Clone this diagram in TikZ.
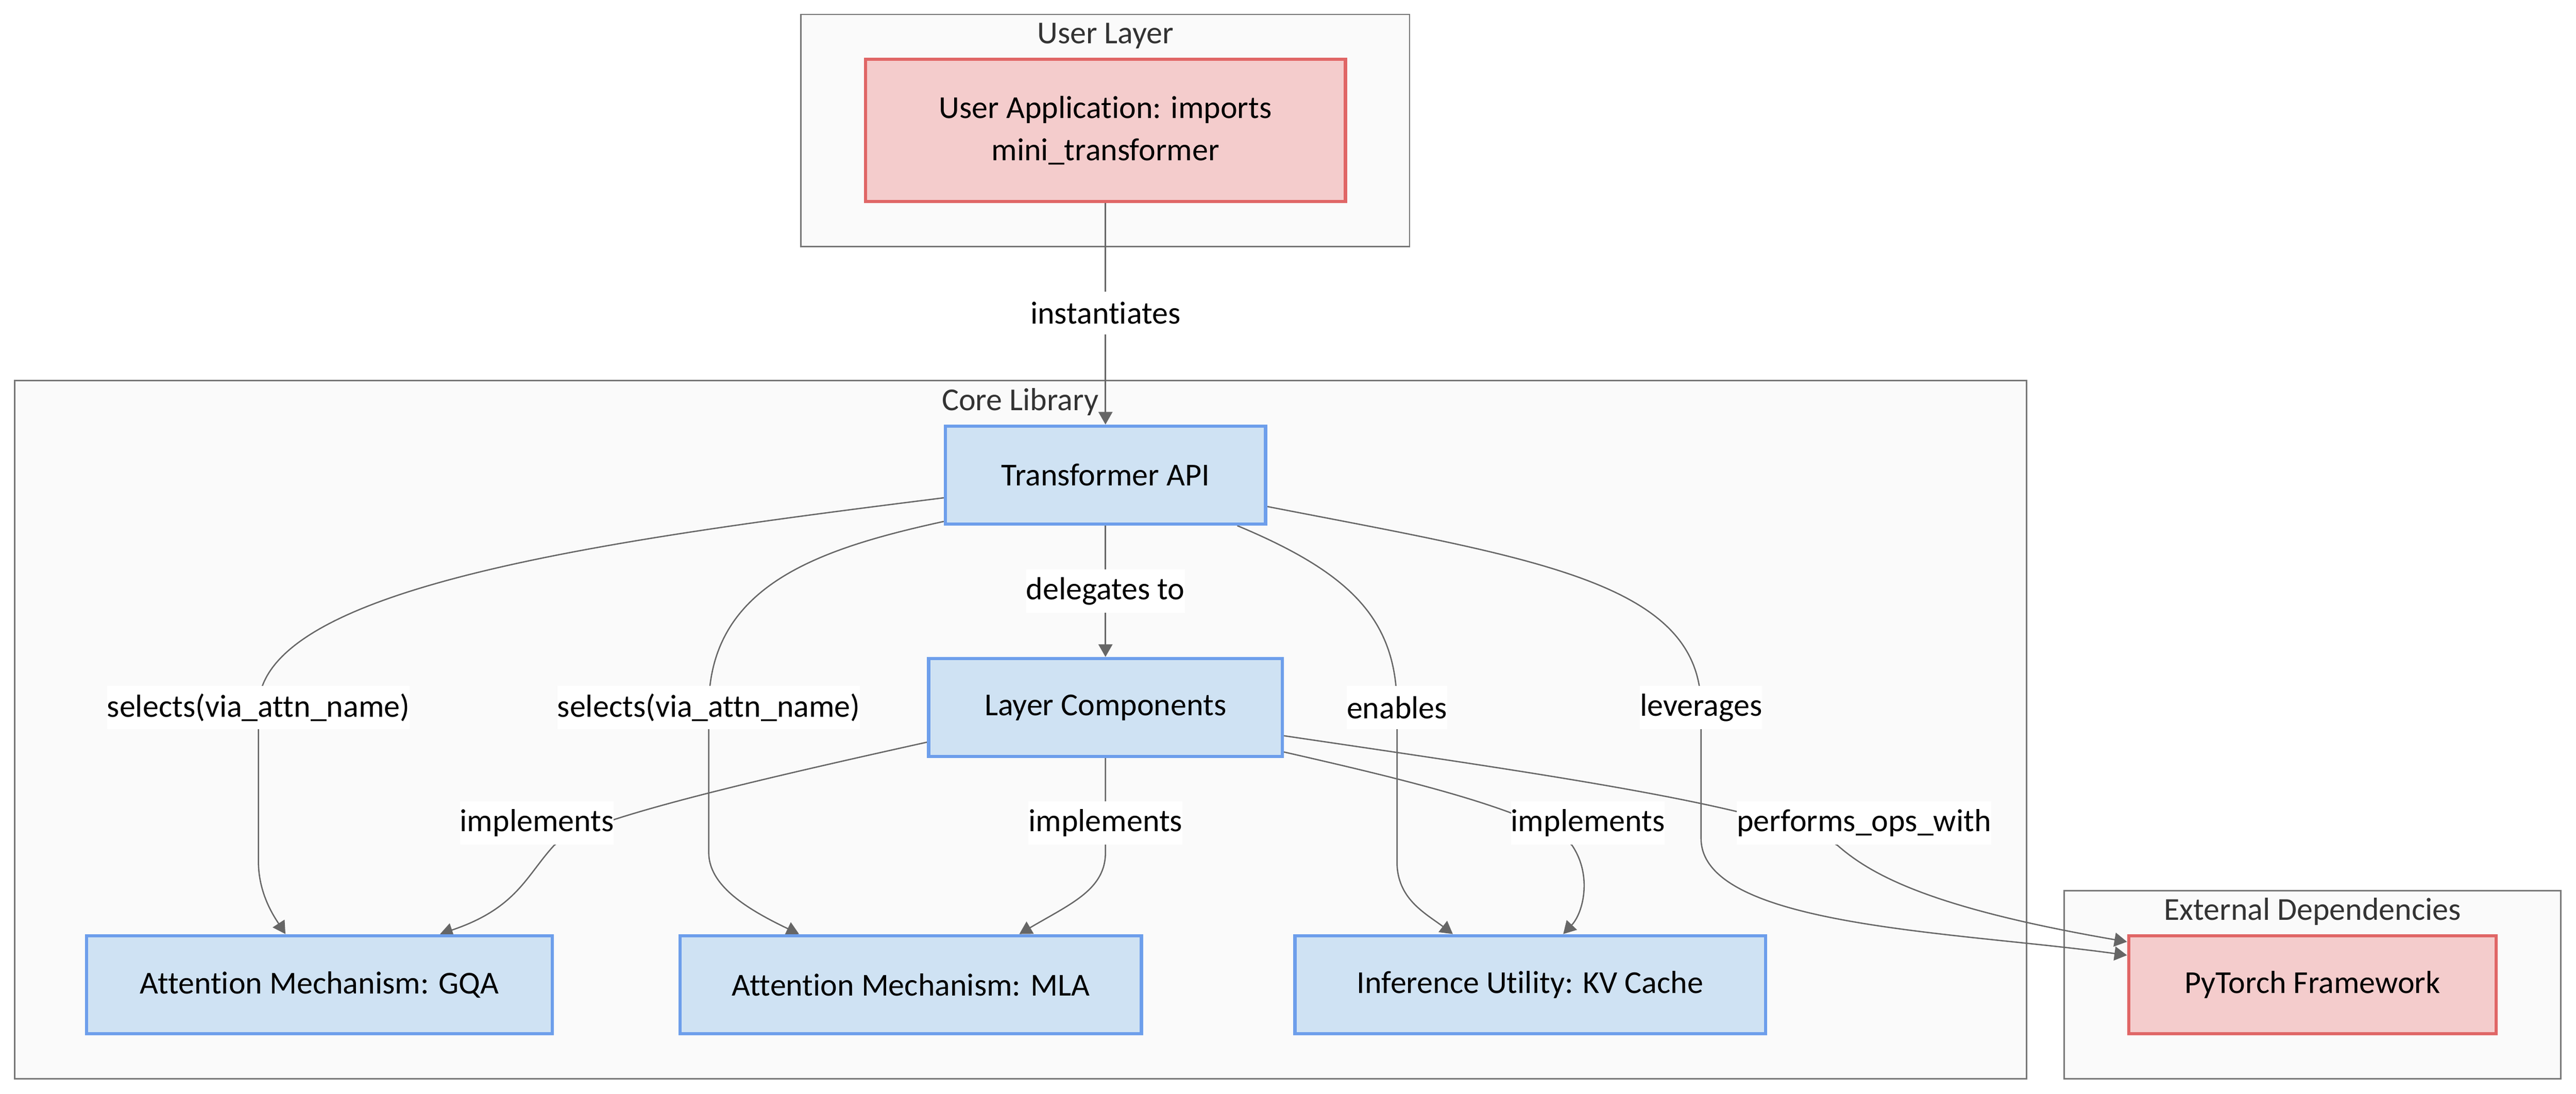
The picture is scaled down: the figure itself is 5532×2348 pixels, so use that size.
\documentclass[tikz,border=0pt]{standalone}
\usepackage{fontspec}
\setmainfont{Carlito}[Ligatures=NoCommon]
\usepackage{tikz}
\usetikzlibrary{arrows.meta,calc,positioning}
\definecolor{clfill}{HTML}{FAFAFA}
\definecolor{cldraw}{HTML}{777777}
\definecolor{cltext}{HTML}{333333}
\definecolor{bluefill}{HTML}{CFE2F3}
\definecolor{bluedraw}{HTML}{6D9EEB}
\definecolor{redfill}{HTML}{F4CCCC}
\definecolor{reddraw}{HTML}{E06666}
\definecolor{edgecol}{HTML}{666666}
\pgfdeclarelayer{clusters}
\pgfdeclarelayer{lines}
\pgfsetlayers{clusters,lines,main}
\tikzset{
  cluster/.style={draw=cldraw,fill=clfill,line width=0.9pt},
  cltitle/.style={text=cltext,inner sep=0pt},
  bluebox/.style={draw=bluedraw,fill=bluefill,line width=2pt,minimum height=2.1cm,inner sep=0pt},
  redbox/.style={draw=reddraw,fill=redfill,line width=2pt,minimum height=2.1cm,inner sep=0pt},
  conn/.style={draw=edgecol,line width=0.8pt,-{Triangle[length=0.27cm,width=0.3cm]}},
  elabel/.style={fill=white,inner xsep=0pt,inner ysep=0pt,minimum height=0.92cm}
}
\begin{document}
\begin{tikzpicture}[x=0.01cm,y=-0.01cm,font=\fontsize{19.5}{26}\selectfont]
\useasboundingbox (0,0) rectangle (5532,2348);
\begin{pgfonlayer}{clusters}
\fill[white] (0,0) rectangle (5532,2348);
\draw[cluster] (1720,31) rectangle (3027,529);
\draw[cluster] (32,817) rectangle (4352,2316);
\draw[cluster] (4433,1912) rectangle (5499,2316);
\end{pgfonlayer}
\node[cltitle] (userT) at (2374,77) {User Layer};
\node[cltitle] (coreT) at (2191,863) {Core Library};
\node[cltitle] (extT) at (4966,1957) {External Dependencies};

\node[redbox,minimum width=10.3cm,minimum height=3.05cm,align=center] (user) at (2374,280) {User Application: imports\\mini\_transformer};
\node[bluebox,minimum width=6.87cm] (tapi) at (2374,1020) {Transformer API};
\node[bluebox,minimum width=7.59cm] (layer) at (2374,1519) {Layer Components};
\node[bluebox,minimum width=9.99cm] (gqa) at (686,2114) {Attention Mechanism: GQA};
\node[bluebox,minimum width=9.9cm] (mla) at (1956,2114) {Attention Mechanism: MLA};
\node[bluebox,minimum width=10.1cm] (kv) at (3286,2114) {Inference Utility: KV Cache};
\node[redbox,minimum width=7.89cm] (torch) at (4966,2114) {PyTorch Framework};

\node[elabel] (inst) at (2374,672) {instantiates};
\node[elabel] (deleg) at (2374,1269) {delegates to};
\node[elabel] (selGqa) at (555,1519) {selects(via\_attn\_name)};
\node[elabel] (selMla) at (1522,1519) {selects(via\_attn\_name)};
\node[elabel] (enab) at (3000,1519) {enables};
\node[elabel] (lever) at (3653,1519) {leverages};
\node[elabel] (implGqa) at (1153,1767) {implements};
\node[elabel] (implMla) at (2374,1767) {implements};
\node[elabel] (implKv) at (3410,1767) {implements};
\node[elabel] (perf) at (4003,1767) {performs\_ops\_with};

\begin{pgfonlayer}{lines}
\draw[conn] (user) -- (tapi);
\draw[conn] (tapi) -- (layer);
\draw[conn] (tapi.188) .. controls (1300,1160) and (555,1260) .. (selGqa.center) -- (555,1850) .. controls (555,1920) and (590,1970) .. ($(gqa.north)+(-73,0)$);
\draw[conn] (tapi.196) .. controls (1750,1180) and (1522,1260) .. (selMla.center) -- (1522,1830) .. controls (1522,1900) and (1600,1950) .. ($(mla.north)+(-240,0)$);
\draw[conn] (layer.191) .. controls (1600,1680) and (1260,1760) .. (1190,1815) .. controls (1130,1880) and (1110,1950) .. ($(gqa.north)+(259,0)$);
\draw[conn] (layer.south) -- (implMla.center) -- (2374,1830) .. controls (2374,1910) and (2300,1940) .. ($(mla.north)+(233,0)$);
\draw[conn] (tapi.339) .. controls (2900,1230) and (3000,1330) .. (enab.center) -- (3000,1850) .. controls (3000,1930) and (3060,1960) .. ($(kv.north)+(-166,0)$);
\draw[conn] (layer.346) .. controls (3000,1670) and (3300,1740) .. (3376,1815) .. controls (3420,1880) and (3400,1960) .. ($(kv.north)+(71,0)$);
\draw[conn] (tapi.349) .. controls (3300,1200) and (3653,1250) .. (lever.center) -- (3653,1800) .. controls (3653,1990) and (4200,2000) .. (torch.171);
\draw[conn] (layer.351) .. controls (3300,1660) and (3800,1730) .. (3946,1815) .. controls (4020,1880) and (4150,1950) .. (torch.167);
\end{pgfonlayer}
\end{tikzpicture}
\end{document}
